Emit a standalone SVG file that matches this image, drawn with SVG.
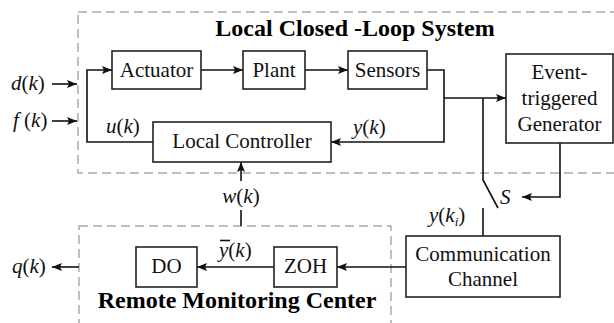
<svg xmlns="http://www.w3.org/2000/svg" width="614" height="323" viewBox="0 0 614 323">
<style>
.box{fill:#fff;stroke:#222;stroke-width:1.6}
.ln{fill:none;stroke:#111;stroke-width:1.6}
.dash{fill:none;stroke:#aaa;stroke-width:1.5;stroke-dasharray:9 5}
.t{font-family:"Liberation Serif",serif;font-size:21px;fill:#111}
.m{font-family:"Liberation Serif",serif;font-size:21px;fill:#111}
.i{font-style:italic}
.title{font-family:"Liberation Serif",serif;font-size:24px;font-weight:bold;fill:#000}
</style>
<defs>
<marker id="ar" viewBox="0 0 10 8" refX="10" refY="4" markerWidth="10" markerHeight="8" markerUnits="userSpaceOnUse" orient="auto">
<path d="M0,0 L10,4 L0,8 L2,4 Z" fill="#111"/>
</marker>
</defs>
<g id="regions">
<rect class="dash" x="78" y="12" width="545" height="161"/>
<rect class="dash" x="79" y="226" width="312" height="110"/>
<text class="title" x="355" y="36" text-anchor="middle">Local Closed -Loop System</text>
<text class="title" x="237" y="308" text-anchor="middle">Remote Monitoring Center</text>
</g>
<g id="connectors">
<path class="ln" d="M52,84 H77" marker-end="url(#ar)"/>
<path class="ln" d="M52,121 H77" marker-end="url(#ar)"/>
<path class="ln" d="M201,70 H243" marker-end="url(#ar)"/>
<path class="ln" d="M305,70 H348" marker-end="url(#ar)"/>
<path class="ln" d="M427,70 H444 V142 H331" marker-end="url(#ar)"/>
<path class="ln" d="M444,98 H506" marker-end="url(#ar)"/>
<path class="ln" d="M153,142 H87 V70 H112" marker-end="url(#ar)"/>
<path class="ln" d="M483,98 V180 L498,208"/>
<path class="ln" d="M483,208 V236"/>
<path class="ln" d="M560,143 V197 H522" marker-end="url(#ar)"/>
<path class="ln" d="M406,267 H337" marker-end="url(#ar)"/>
<path class="ln" d="M274,267 H197" marker-end="url(#ar)"/>
<path class="ln" d="M79,267 H52" marker-end="url(#ar)"/>
<path class="ln" d="M241,181 V162" marker-end="url(#ar)"/>
<path class="ln" d="M241,210 V226"/>
</g>
<g id="actuator"><rect class="box" x="112" y="51" width="89" height="38"/><text class="t" x="156.5" y="77" text-anchor="middle">Actuator</text></g>
<g id="plant"><rect class="box" x="243" y="51" width="62" height="38"/><text class="t" x="274" y="77" text-anchor="middle">Plant</text></g>
<g id="sensors"><rect class="box" x="348" y="51" width="79" height="38"/><text class="t" x="387.5" y="77" text-anchor="middle">Sensors</text></g>
<g id="controller"><rect class="box" x="153" y="122" width="178" height="40"/><text class="t" x="242" y="148" text-anchor="middle">Local Controller</text></g>
<g id="generator"><rect class="box" x="506" y="54" width="107" height="89"/>
<text class="t" x="559.5" y="79" text-anchor="middle">Event-</text>
<text class="t" x="559.5" y="105" text-anchor="middle">triggered</text>
<text class="t" x="559.5" y="131" text-anchor="middle">Generator</text></g>
<g id="channel"><rect class="box" x="406" y="236" width="154" height="61"/>
<text class="t" x="483" y="261" text-anchor="middle">Communication</text>
<text class="t" x="483" y="286" text-anchor="middle">Channel</text></g>
<g id="zoh"><rect class="box" x="274" y="247" width="63" height="40"/><text class="t" x="305.5" y="273" text-anchor="middle">ZOH</text></g>
<g id="do"><rect class="box" x="136" y="247" width="61" height="40"/><text class="t" x="166.5" y="273" text-anchor="middle">DO</text></g>
<g id="labels">
<text class="m" x="11" y="90"><tspan class="i">d</tspan>(<tspan class="i">k</tspan>)</text>
<text class="m" x="13" y="127"><tspan class="i">f</tspan> (<tspan class="i">k</tspan>)</text>
<text class="m" x="106" y="133"><tspan class="i">u</tspan>(<tspan class="i">k</tspan>)</text>
<text class="m" x="353" y="134"><tspan class="i">y</tspan>(<tspan class="i">k</tspan>)</text>
<text class="m" x="241" y="203" text-anchor="middle"><tspan class="i">w</tspan>(<tspan class="i">k</tspan>)</text>
<text class="m" x="500" y="204"><tspan class="i">S</tspan></text>
<text class="m" x="429" y="222"><tspan class="i">y</tspan>(<tspan class="i">k</tspan><tspan class="i" font-size="13" dy="4">i</tspan><tspan dy="-4">)</tspan></text>
<text class="m" x="219" y="257"><tspan class="i">y</tspan>(<tspan class="i">k</tspan>)</text>
<path class="ln" d="M220,240.5 H230" stroke-width="1.2"/>
<text class="m" x="12" y="273"><tspan class="i">q</tspan>(<tspan class="i">k</tspan>)</text>
</g>
</svg>
